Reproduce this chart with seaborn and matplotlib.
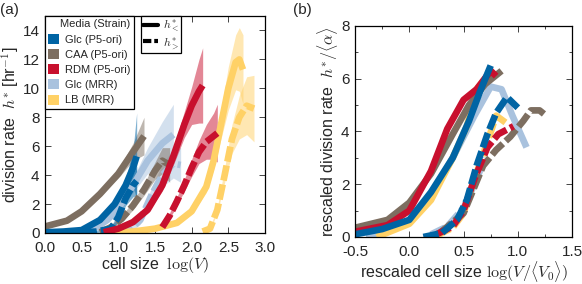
"""
Division rate vs cell size for several media/strains, raw (a) and rescaled (b).
"""

import matplotlib
matplotlib.use("Agg")
import matplotlib.pyplot as plt
import numpy as np
import seaborn as sns
from matplotlib.lines import Line2D
from matplotlib.patches import Patch

STRAINS = ["Glc (P5-ori)", "CAA (P5-ori)", "RDM (P5-ori)", "Glc (MRR)", "LB (MRR)"]
COLORS = ["#0064a4", "#7d6e60", "#c8102e", "#a9c2de", "#ffd166"]

# ---- panel (a): h*_< (solid) ----
glc_p5_lt_x = [0.0, 0.25, 0.5, 0.75, 0.95, 1.1, 1.2, 1.25]
glc_p5_lt_y = [0.05, 0.1, 0.2, 0.9, 2.0, 3.3, 4.5, 5.3]
glc_p5_lt_err = [0.1, 0.1, 0.15, 0.2, 0.3, 0.5, 1.2, 3.0]

caa_p5_lt_x = [0.0, 0.3, 0.5, 0.75, 1.0, 1.2, 1.35]
caa_p5_lt_y = [0.45, 0.85, 1.5, 2.7, 4.1, 5.6, 6.7]
caa_p5_lt_err = [0.1, 0.1, 0.15, 0.2, 0.3, 0.6, 1.3]

rdm_p5_lt_x = [0.8, 1.0, 1.2, 1.4, 1.6, 1.75, 1.9, 2.0, 2.1, 2.15]
rdm_p5_lt_y = [0.05, 0.3, 0.75, 1.6, 3.3, 5.3, 7.5, 8.8, 9.8, 10.2]
rdm_p5_lt_err = [0.1, 0.1, 0.15, 0.2, 0.4, 0.6, 0.9, 1.3, 2.2, 2.6]

glc_mrr_lt_x = [0.4, 0.7, 0.85, 1.0, 1.2, 1.4, 1.6, 1.75]
glc_mrr_lt_y = [0.05, 0.4, 0.9, 1.7, 3.3, 5.0, 6.2, 6.8]
glc_mrr_lt_err = [0.1, 0.15, 0.2, 0.3, 0.5, 0.9, 1.5, 2.1]

lb_mrr_lt_x = [0.9, 1.2, 1.5, 1.8, 2.0, 2.2, 2.3, 2.4, 2.5, 2.6, 2.65, 2.7]
lb_mrr_lt_y = [0.05, 0.1, 0.3, 0.7, 1.5, 3.2, 5.0, 7.5, 10.0, 11.8, 12.0, 11.3]
lb_mrr_lt_err = [0.05, 0.05, 0.1, 0.15, 0.2, 0.4, 0.6, 1.0, 1.5, 1.9, 2.2, 2.4]

# ---- panel (a): h*_> (dashed) ----
glc_p5_gt_x = [0.5, 0.7, 0.9, 1.0, 1.1, 1.2, 1.25]
glc_p5_gt_y = [0.05, 0.1, 0.3, 1.1, 2.4, 3.3, 3.6]
glc_p5_gt_err = [0.1, 0.1, 0.15, 0.3, 0.5, 0.8, 1.0]

caa_p5_gt_x = [0.75, 0.9, 1.05, 1.2, 1.35, 1.5, 1.6, 1.7]
caa_p5_gt_y = [0.05, 0.4, 1.0, 1.9, 3.0, 4.3, 5.0, 4.7]
caa_p5_gt_err = [0.1, 0.15, 0.2, 0.3, 0.4, 0.6, 0.9, 1.2]

rdm_p5_gt_x = [1.6, 1.7, 1.8, 1.9, 2.0, 2.1, 2.2, 2.3, 2.35]
rdm_p5_gt_y = [0.4, 1.2, 2.2, 3.3, 4.5, 5.6, 6.3, 6.7, 6.9]
rdm_p5_gt_err = [0.1, 0.2, 0.3, 0.4, 0.6, 0.8, 1.2, 1.6, 2.0]

glc_mrr_gt_x = [1.0, 1.15, 1.3, 1.45, 1.6, 1.75, 1.85]
glc_mrr_gt_y = [0.0, 0.2, 0.9, 2.6, 4.0, 4.8, 4.7]
glc_mrr_gt_err = [0.1, 0.2, 0.3, 0.5, 0.8, 1.0, 1.2]

lb_mrr_gt_x = [2.15, 2.25, 2.35, 2.45, 2.55, 2.65, 2.75, 2.85]
lb_mrr_gt_y = [0.1, 0.3, 1.6, 4.0, 6.5, 8.0, 8.8, 8.6]
lb_mrr_gt_err = [0.05, 0.1, 0.2, 0.5, 1.0, 1.5, 2.0, 2.3]

# ---- panel (b): rescaled, solid ----
glc_p5_lt_xr = [-0.5, -0.25, 0.0, 0.2, 0.4, 0.55, 0.65, 0.75]
glc_p5_lt_yr = [0.1, 0.3, 0.65, 1.7, 3.0, 4.4, 5.5, 6.5]
caa_p5_lt_xr = [-0.5, -0.2, 0.0, 0.2, 0.4, 0.55, 0.7, 0.85]
caa_p5_lt_yr = [0.35, 0.65, 1.3, 2.4, 3.9, 5.0, 5.8, 6.3]
rdm_p5_lt_xr = [-0.5, -0.2, 0.0, 0.2, 0.35, 0.5, 0.62, 0.75, 0.8]
rdm_p5_lt_yr = [0.2, 0.45, 1.0, 2.5, 4.1, 5.2, 5.6, 6.3, 6.1]
glc_mrr_lt_xr = [-0.4, -0.2, 0.0, 0.2, 0.4, 0.6, 0.75, 0.85, 0.95, 1.08]
glc_mrr_lt_yr = [0.05, 0.2, 0.6, 1.6, 3.0, 4.6, 5.7, 5.6, 4.6, 3.4]
lb_mrr_lt_xr = [-0.3, 0.0, 0.2, 0.4, 0.53, 0.62, 0.7]
lb_mrr_lt_yr = [0.0, 0.5, 1.4, 3.0, 4.2, 5.6, 6.0]

# ---- panel (b): rescaled, dashed ----
glc_p5_gt_xr = [0.13, 0.3, 0.44, 0.53, 0.62, 0.72, 0.8, 0.9, 1.0]
glc_p5_gt_yr = [0.0, 0.15, 0.65, 1.4, 2.7, 3.9, 4.7, 5.3, 4.9]
caa_p5_gt_xr = [0.28, 0.5, 0.68, 0.8, 0.93, 1.05, 1.12, 1.2, 1.26]
caa_p5_gt_yr = [0.15, 0.9, 2.7, 3.3, 3.8, 4.4, 4.8, 4.8, 4.6]
rdm_p5_gt_xr = [0.25, 0.4, 0.5, 0.6, 0.72, 0.82, 0.96]
rdm_p5_gt_yr = [0.1, 0.4, 1.0, 2.2, 3.4, 3.9, 4.2]
glc_mrr_gt_xr = [0.2, 0.35, 0.5, 0.6, 0.7]
glc_mrr_gt_yr = [0.1, 0.4, 1.1, 2.0, 3.0]
lb_mrr_gt_xr = [0.25, 0.4, 0.5, 0.6, 0.72, 0.8, 0.9]
lb_mrr_gt_yr = [0.05, 0.35, 0.9, 2.2, 3.6, 4.6, 4.3]

LW = 4.8
DASH = (0, (2.3, 0.6))
TICK_FS = 11
LABEL_FS = 11.5

sns.set_style("ticks")
plt.rcParams["font.family"] = ["Liberation Sans", "DejaVu Sans"]
plt.rcParams["mathtext.fontset"] = "cm"
plt.rcParams["xtick.direction"] = "in"
plt.rcParams["ytick.direction"] = "in"


def draw(ax, x, y, color, dashed=False, err=None):
    x = np.asarray(x)
    y = np.asarray(y)
    if err is not None:
        err = np.asarray(err)
        ax.fill_between(x, np.clip(y - err, 0, None), y + err,
                        color=color, alpha=0.5, lw=0)
    sns.lineplot(x=x, y=y, color=color, lw=LW, sort=False, ax=ax,
                 linestyle=DASH if dashed else "-", solid_capstyle="butt",
                 dash_capstyle="butt")


def style_axis(ax):
    ax.tick_params(which="both", top=True, right=True, labelsize=TICK_FS,
                   length=4, width=0.6)
    ax.tick_params(axis="x", which="both", pad=6)
    ax.tick_params(axis="y", which="both", pad=4)
    ax.tick_params(which="minor", length=2.5)
    for spine in ax.spines.values():
        spine.set_linewidth(0.9)
        spine.set_color("black")


fig = plt.figure(figsize=(5.82, 2.84), dpi=100)
ax_a = fig.add_axes([0.0773, 0.1796, 0.378, 0.764])
ax_b = fig.add_axes([0.610, 0.1655, 0.373, 0.743])

# panel (a)
panel_a = [
    (glc_mrr_lt_x, glc_mrr_lt_y, glc_mrr_lt_err, 3, False),
    (glc_mrr_gt_x, glc_mrr_gt_y, glc_mrr_gt_err, 3, True),
    (lb_mrr_lt_x, lb_mrr_lt_y, lb_mrr_lt_err, 4, False),
    (lb_mrr_gt_x, lb_mrr_gt_y, lb_mrr_gt_err, 4, True),
    (caa_p5_lt_x, caa_p5_lt_y, caa_p5_lt_err, 1, False),
    (caa_p5_gt_x, caa_p5_gt_y, caa_p5_gt_err, 1, True),
    (glc_p5_lt_x, glc_p5_lt_y, glc_p5_lt_err, 0, False),
    (glc_p5_gt_x, glc_p5_gt_y, glc_p5_gt_err, 0, True),
    (rdm_p5_lt_x, rdm_p5_lt_y, rdm_p5_lt_err, 2, False),
    (rdm_p5_gt_x, rdm_p5_gt_y, rdm_p5_gt_err, 2, True),
]
for x, y, err, idx, dashed in panel_a:
    draw(ax_a, x, y, COLORS[idx], dashed, err)

ax_a.set_xlim(0, 3)
ax_a.set_ylim(0, 15)
ax_a.set_xticks(np.arange(0, 3.01, 0.5))
ax_a.set_yticks(np.arange(0, 15, 2))
ax_a.set_xticklabels([f"{v:.1f}" for v in np.arange(0, 3.01, 0.5)])
ax_a.set_xlabel(r"cell size  $\log(V)$", fontsize=LABEL_FS, labelpad=0)
ax_a.set_ylabel(r"division rate  $h^{*}$ [hr$^{-1}$]", fontsize=LABEL_FS, labelpad=1)
style_axis(ax_a)

strain_handles = [Patch(facecolor=c, edgecolor="none") for c in COLORS]
leg1 = ax_a.legend(strain_handles, STRAINS, title="Media (Strain)",
                   loc="upper left", bbox_to_anchor=(0.0, 1.0),
                   borderaxespad=0, fontsize=8, title_fontsize=8,
                   handlelength=1.0, handleheight=1.0, handletextpad=0.5,
                   labelspacing=0.4, borderpad=0.3, fancybox=False,
                   framealpha=1, edgecolor="black")
leg1._legend_box.align = "right"
leg1.get_frame().set_linewidth(0.9)
ax_a.add_artist(leg1)

style_handles = [Line2D([], [], color="black", lw=3),
                 Line2D([], [], color="black", lw=3, linestyle=(0, (2.0, 0.7)))]
leg2 = ax_a.legend(style_handles, [r"$h^{*}_{<}$", r"$h^{*}_{>}$"],
                   loc="upper left", bbox_to_anchor=(0.435, 1.0),
                   borderaxespad=0, fontsize=8.5, handlelength=1.3,
                   handletextpad=0.4, labelspacing=0.05, borderpad=0.2,
                   fancybox=False, framealpha=1, edgecolor="black")
leg2.get_frame().set_linewidth(0.9)

# panel (b)
panel_b = [
    (glc_mrr_lt_xr, glc_mrr_lt_yr, 3, False),
    (glc_mrr_gt_xr, glc_mrr_gt_yr, 3, True),
    (lb_mrr_lt_xr, lb_mrr_lt_yr, 4, False),
    (lb_mrr_gt_xr, lb_mrr_gt_yr, 4, True),
    (caa_p5_lt_xr, caa_p5_lt_yr, 1, False),
    (caa_p5_gt_xr, caa_p5_gt_yr, 1, True),
    (rdm_p5_lt_xr, rdm_p5_lt_yr, 2, False),
    (rdm_p5_gt_xr, rdm_p5_gt_yr, 2, True),
    (glc_p5_lt_xr, glc_p5_lt_yr, 0, False),
    (glc_p5_gt_xr, glc_p5_gt_yr, 0, True),
]
for x, y, idx, dashed in panel_b:
    draw(ax_b, x, y, COLORS[idx], dashed)

ax_b.set_xlim(-0.5, 1.5)
ax_b.set_ylim(0, 8)
ax_b.set_xticks(np.arange(-0.5, 1.51, 0.5))
ax_b.set_xticklabels([f"{v:.1f}" for v in np.arange(-0.5, 1.51, 0.5)])
ax_b.set_yticks(np.arange(0, 8.1, 2))
ax_b.set_yticks(np.arange(1, 8, 2), minor=True)
ax_b.set_xticks(np.arange(-0.25, 1.5, 0.5), minor=True)
ax_b.set_xlabel(r"rescaled cell size $\log(V/\langle V_0\rangle)$", fontsize=LABEL_FS, labelpad=0)
ax_b.set_ylabel(r"rescaled division rate  $h^{*}/\langle\alpha\rangle$", fontsize=LABEL_FS, labelpad=1)
style_axis(ax_b)

fig.text(0.0, 0.99, "(a)", fontsize=11, va="top", ha="left")
fig.text(0.503, 0.99, "(b)", fontsize=11, va="top", ha="left")

fig.savefig("out.png", dpi=100)
